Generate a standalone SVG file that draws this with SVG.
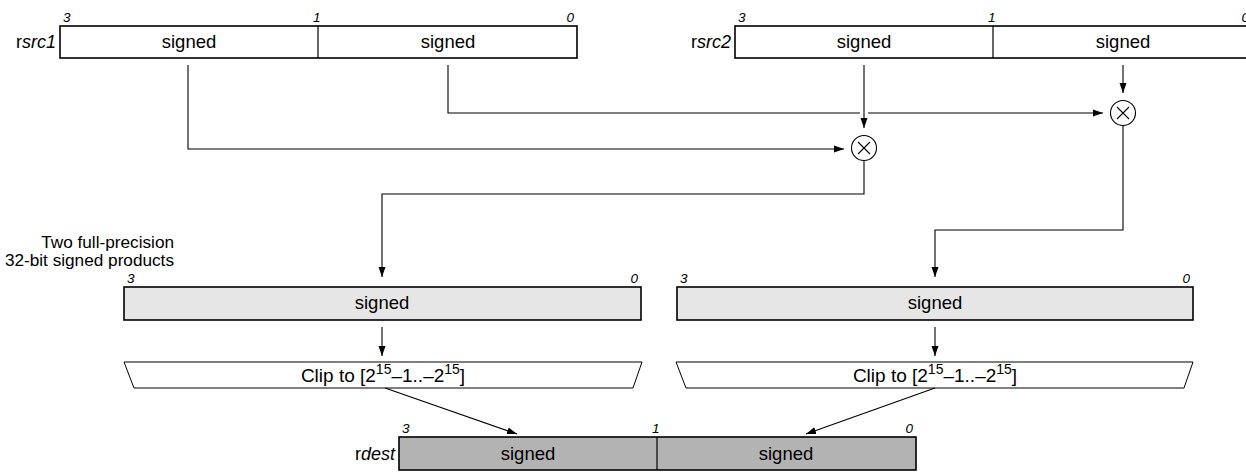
<svg xmlns="http://www.w3.org/2000/svg" width="1246" height="472" viewBox="0 0 1246 472">
<style>
text{font-family:"Liberation Sans",Arial,sans-serif;fill:#000}
.t{font-size:18.5px;text-anchor:middle}
.ct{font-size:19px;text-anchor:middle}
.b{font-size:13.5px;font-style:italic}
.n{font-size:18px;text-anchor:end}
.lb{font-size:17.2px;text-anchor:end}
.box{fill:#fff;stroke:#000;stroke-width:1.6}
.g1{fill:#e6e6e6;stroke:#000;stroke-width:1.6}
.g2{fill:#b3b3b3;stroke:#000;stroke-width:1.6}
.div{stroke:#000;stroke-width:1.2}
.trap{fill:#fff;stroke:#000;stroke-width:1}
.c{fill:none;stroke:#000;stroke-width:1.1}
.ln{fill:none;stroke:#000;stroke-width:1.1}
.arr{fill:none;stroke:#000;stroke-width:1.1;marker-end:url(#ah)}
</style>
<defs>
<marker id="ah" markerWidth="10" markerHeight="8" refX="10" refY="4" orient="auto" markerUnits="userSpaceOnUse"><path d="M0,0.5 L10,4 L0,7.5 z" fill="#000"/></marker>
</defs>

<g id="rsrc1">
<rect class="box" x="60" y="26" width="517" height="32"/>
<line class="div" x1="318" y1="26" x2="318" y2="58"/>
<text class="b" x="63" y="22">3</text>
<text class="b" x="313" y="22">1</text>
<text class="b" x="574" y="22" text-anchor="end">0</text>
<text class="n" x="56" y="48">r<tspan font-style="italic">src1</tspan></text>
<text class="t" x="189" y="48">signed</text>
<text class="t" x="448" y="48">signed</text>
</g>

<g id="rsrc2">
<rect class="box" x="735" y="26" width="517" height="32"/>
<line class="div" x1="993" y1="26" x2="993" y2="58"/>
<text class="b" x="738" y="22">3</text>
<text class="b" x="988" y="22">1</text>
<text class="b" x="1249" y="22" text-anchor="end">0</text>
<text class="n" x="731" y="48">r<tspan font-style="italic">src2</tspan></text>
<text class="t" x="864" y="48">signed</text>
<text class="t" x="1123" y="48">signed</text>
</g>

<g id="mul1">
<circle class="c" cx="864" cy="148" r="12.5"/>
<path class="ln" d="M858,142 L870,154 M870,142 L858,154"/>
</g>

<g id="mul2">
<circle class="c" cx="1123" cy="113" r="12.5"/>
<path class="ln" d="M1117,107 L1129,119 M1129,107 L1117,119"/>
</g>

<g id="label">
<text class="lb" x="174" y="248">Two full-precision</text>
<text class="lb" x="174" y="266">32-bit signed products</text>
</g>

<g id="prod1">
<rect class="g1" x="124" y="287" width="517" height="33"/>
<text class="b" x="127" y="283">3</text>
<text class="b" x="638" y="283" text-anchor="end">0</text>
<text class="t" x="382" y="309">signed</text>
</g>

<g id="prod2">
<rect class="g1" x="677" y="287" width="516" height="33"/>
<text class="b" x="680" y="283">3</text>
<text class="b" x="1190" y="283" text-anchor="end">0</text>
<text class="t" x="935" y="309">signed</text>
</g>

<g id="clip1">
<polygon class="trap" points="124,362 642,362 633,388 134,388"/>
<text class="ct" x="383" y="382">Clip to [2<tspan font-size="14" dy="-8">15</tspan><tspan dy="8">–1..–2</tspan><tspan font-size="14" dy="-8">15</tspan><tspan dy="8">]</tspan></text>
</g>

<g id="clip2">
<polygon class="trap" points="676,362 1193,362 1184,388 686,388"/>
<text class="ct" x="935" y="382">Clip to [2<tspan font-size="14" dy="-8">15</tspan><tspan dy="8">–1..–2</tspan><tspan font-size="14" dy="-8">15</tspan><tspan dy="8">]</tspan></text>
</g>

<g id="rdest">
<rect class="g2" x="399" y="437" width="517" height="33"/>
<line class="div" x1="657" y1="437" x2="657" y2="470"/>
<text class="b" x="402" y="433">3</text>
<text class="b" x="652" y="433">1</text>
<text class="b" x="913" y="433" text-anchor="end">0</text>
<text class="n" x="395" y="460">r<tspan font-style="italic">dest</tspan></text>
<text class="t" x="528" y="460">signed</text>
<text class="t" x="786" y="460">signed</text>
</g>

<g id="connectors">
<path class="arr" d="M188,65 V149 H844"/>
<path class="ln" d="M448,65 V113 H860"/>
<path class="arr" d="M868,113 H1103"/>
<path class="arr" d="M864,65 V128"/>
<path class="arr" d="M1123,65 V93"/>
<path class="arr" d="M864,161 V194 H382 V277"/>
<path class="arr" d="M1123,126 V230 H935 V277"/>
<path class="arr" d="M382,327 V356"/>
<path class="arr" d="M935,327 V356"/>
<path class="arr" d="M385,388 L517,434"/>
<path class="arr" d="M935,388 L806,434"/>
</g>
</svg>
